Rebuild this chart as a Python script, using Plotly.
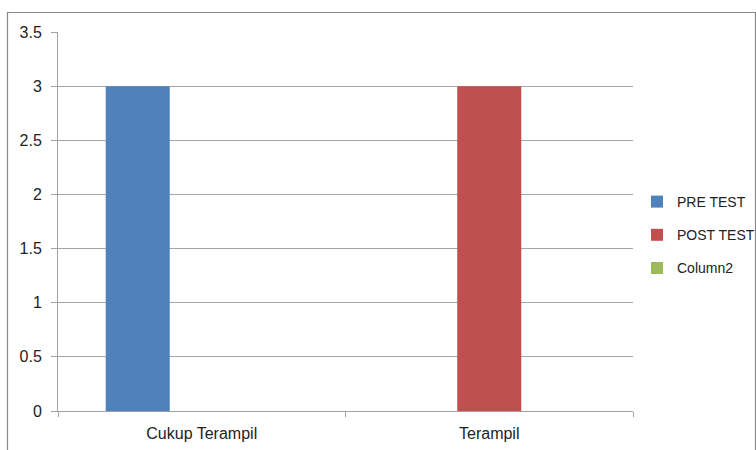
import plotly.graph_objects as go

categories = ["Cukup Terampil", "Terampil"]
pre_test = [3, 0]
post_test = [0, 3]
column2 = [0, 0]
series_names = ["PRE TEST", "POST TEST", "Column2"]
colors = ["#4F81BD", "#C0504D", "#9BBB59"]

fig = go.Figure()
for i, (name, vals, col) in enumerate(zip(series_names, [pre_test, post_test, column2], colors)):
    fig.add_trace(go.Bar(
        x=categories, y=vals, name=name, marker_color=col,
        marker_line_width=0, legendgroup=f"g{i}"
    ))

family = "Liberation Sans, Arial, sans-serif"
tick_font = dict(family=family, size=16, color="#222222")
L, R, T, B = 58, 123, 32, 39
pw, ph = 756 - L - R, 450 - T - B

def px(x):
    return (x - L) / pw

def py(y):
    return (450 - B - y) / ph

fig.update_layout(
    width=756, height=450,
    margin=dict(l=L, r=R, t=T, b=B, pad=0, autoexpand=False),
    paper_bgcolor="white", plot_bgcolor="white",
    font=tick_font,
    barmode="group", bargap=0.332, bargroupgap=0,
    showlegend=True,
    legend=dict(x=px(637), y=py(235), xanchor="left", yanchor="middle",
                font=dict(family=family, size=14, color="#222222"),
                traceorder="grouped", tracegroupgap=12,
                bgcolor="rgba(0,0,0,0)", itemwidth=30),
    xaxis=dict(showgrid=False, showline=True, linecolor="#A0A0A0", linewidth=1,
               ticks="outside", tickson="boundaries", ticklen=5, tickcolor="#A0A0A0",
               tickfont=tick_font, ticklabelstandoff=8),
    yaxis=dict(range=[0, 3.5], dtick=0.5, showgrid=True, gridcolor="#A6A6A6",
               gridwidth=1, showline=True, linecolor="#A0A0A0", linewidth=1,
               ticks="outside", ticklen=6, tickcolor="#A0A0A0", zeroline=False,
               tickfont=tick_font, tickformat="~g", ticklabelstandoff=6),
    shapes=[dict(type="rect", xref="paper", yref="paper",
                 x0=px(7.5), x1=px(755.5), y0=py(470), y1=py(12.5),
                 line=dict(color="#888888", width=1.2), fillcolor="rgba(0,0,0,0)",
                 layer="below")],
)

fig.write_html("out.html")
